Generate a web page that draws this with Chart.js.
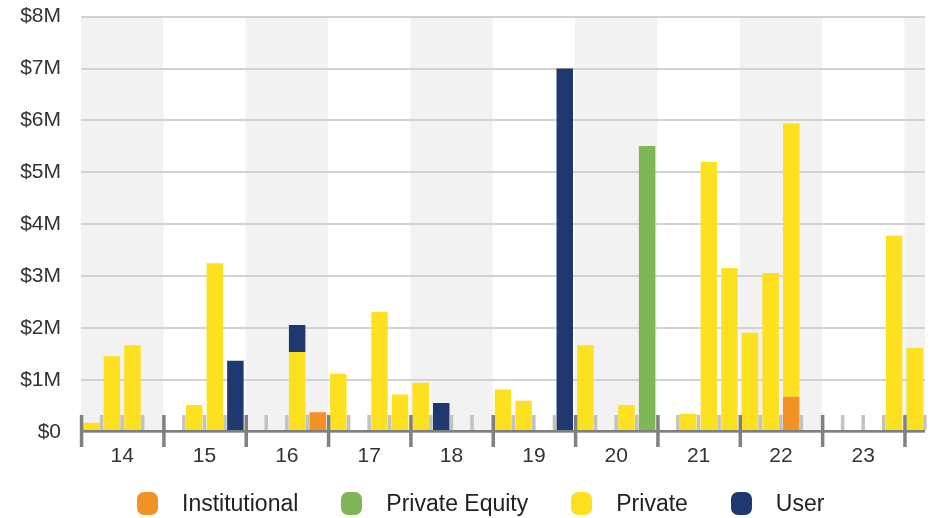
<!DOCTYPE html>
<html>
<head>
<meta charset="utf-8">
<script src="https://cdn.jsdelivr.net/npm/chart.js@4.4.1/dist/chart.umd.min.js"></script>
<style>
  html, body { margin: 0; padding: 0; background: #fff; }
  #wrap { position: relative; width: 933px; height: 518px; }
  #legend {
    position: absolute; left: 0; width: 933px; top: 491px; height: 24px;
    display: flex; justify-content: flex-start; padding-left: 137px; box-sizing: border-box;
    font-family: "Liberation Sans", Arial, sans-serif; font-size: 23px; color: #222;
  }
  .item { display: flex; align-items: center; margin-right: 43px; white-space: nowrap; }
  .box { width: 21px; height: 23px; border-radius: 7px; margin-right: 24px; flex: none; }
</style>
</head>
<body>
<div id="wrap">
  <canvas id="chart" width="933" height="518"></canvas>
  <div id="legend"></div>
</div>
<script>
// trimestre cu tranzacții (an scurt + trimestru)
const quarters = ["14 Q1", "14 Q2", "14 Q3", "15 Q2", "15 Q3", "15 Q4", "16 Q3", "16 Q4", "17 Q1", "17 Q3",
    "17 Q4", "18 Q1", "18 Q2", "19 Q1", "19 Q2", "19 Q4", "20 Q1", "20 Q3", "20 Q4", "21 Q2",
    "21 Q3", "21 Q4", "22 Q1", "22 Q2", "22 Q3", "23 Q4", "24 Q1"];

// valori în milioane $
const institutional = [null, null, null, null, null, null, null, 0.38, null, null,
    null, null, null, null, null, null, null, null, null, null,
    null, null, null, null, 0.68, null, null];
const privateEquity = [null, null, null, null, null, null, null, null, null, null,
    null, null, null, null, null, null, null, null, 5.51, null,
    null, null, null, null, null, null, null];
const privateInv = [0.18, 1.46, 1.67, 0.52, 3.25, null, 1.54, null, 1.12, 2.31,
    0.72, 0.95, null, 0.82, 0.60, null, 1.67, 0.52, null, 0.35,
    5.20, 3.16, 1.91, 3.06, 5.26, 3.78, 1.62];
const user = [null, null, null, null, null, 1.37, 0.52, null, null, null,
    null, null, 0.56, null, null, 7.00, null, null, null, null,
    null, null, null, null, null, null, null];

const yearLabels = ["14", "15", "16", "17", "18", "19", "20", "21", "22", "23"];
const yTicks = [0, 1, 2, 3, 4, 5, 6, 7, 8];

const seriesNames = ["Institutional", "Private Equity", "Private", "User"];
const seriesColors = ["#F39224", "#7FB756", "#FDE01F", "#1F386E"];

// poziția pe axă: ani de la 2014, centrul trimestrului
function qPos(q) {
    const [yy, qq] = q.split(" ");
    return (parseInt(yy) - 14) + (parseInt(qq.slice(1)) - 0.5) / 4;
}
function toPoints(values) {
    return quarters.map((q, i) => ({ x: qPos(q), y: values[i] }));
}

const xMax = 10.25;

// benzi gri alternante + marcaje pe axă
const bandsPlugin = {
    id: "bands",
    beforeDraw(chart) {
        const { ctx, chartArea } = chart;
        const x = chart.scales.x;
        ctx.save();
        ctx.fillStyle = "#F2F2F2";
        for (let y = 0; y <= 10; y += 2) {
            const a = x.getPixelForValue(y);
            const b = x.getPixelForValue(Math.min(y + 1, xMax));
            ctx.fillRect(a, chartArea.top, b - a, chartArea.bottom - chartArea.top);
        }
        ctx.restore();
    },
    afterDatasetsDraw(chart) {
        const { ctx, chartArea } = chart;
        const x = chart.scales.x;
        const base = chartArea.bottom;
        ctx.save();
        // linia axei
        ctx.fillStyle = "#7F7F7F";
        ctx.fillRect(chartArea.left, base - 2, chartArea.right - chartArea.left, 2.5);
        // marcaje trimestriale
        ctx.fillStyle = "#C2C2C2";
        for (let i = 1; i <= xMax * 4; i++) {
            if (i % 4 === 0) continue;
            const px = x.getPixelForValue(i / 4);
            ctx.fillRect(px - 1.8, base - 17, 3.5, 15);
        }
        // marcaje anuale
        ctx.fillStyle = "#808080";
        for (let y = 0; y <= 10; y++) {
            const px = x.getPixelForValue(y);
            ctx.fillRect(px - 1.2, base - 17, 3.5, 32);
        }
        ctx.restore();
    }
};

const datasets = [institutional, privateEquity, privateInv, user].map((vals, i) => ({
    label: seriesNames[i],
    data: toPoints(vals),
    backgroundColor: seriesColors[i],
    borderWidth: 0,
    barPercentage: 1,
    categoryPercentage: 0.8
}));

new Chart(document.getElementById("chart"), {
    type: "bar",
    data: { datasets },
    options: {
        responsive: false,
        animation: false,
        layout: { padding: { top: 0, right: 8, left: 0, bottom: 0 } },
        plugins: { legend: { display: false }, tooltip: { enabled: false } },
        scales: {
            x: {
                type: "linear",
                stacked: true,
                min: 0,
                max: xMax,
                offset: false,
                grid: { display: false, drawTicks: false },
                border: { display: false },
                afterBuildTicks: scale => {
                    scale.ticks = yearLabels.map((l, i) => ({ value: i + 0.5 }));
                },
                afterFit: scale => { scale.height = 86; },
                ticks: {
                    padding: 12,
                    color: "#333",
                    font: { family: "'Liberation Sans', Arial, sans-serif", size: 21 },
                    maxRotation: 0,
                    autoSkip: false,
                    callback: (v) => yearLabels[Math.round(v - 0.5)]
                }
            },
            y: {
                stacked: true,
                min: 0,
                max: 8,
                afterBuildTicks: scale => {
                    scale.ticks = yTicks.map(v => ({ value: v }));
                },
                afterFit: scale => { scale.width = 81; },
                grid: { color: "#D2D2D2", lineWidth: 2, drawTicks: true, tickLength: 16, tickColor: "rgba(0,0,0,0)" },
                border: { display: false },
                ticks: {
                    padding: 4,
                    color: "#333",
                    font: { family: "'Liberation Sans', Arial, sans-serif", size: 21 },
                    callback: v => v === 0 ? "$0" : "$" + v + "M"
                }
            }
        }
    },
    plugins: [bandsPlugin]
});

// legenda HTML
const legendEl = document.getElementById("legend");
seriesNames.forEach((name, i) => {
    const item = document.createElement("div");
    item.className = "item";
    const box = document.createElement("span");
    box.className = "box";
    box.style.background = seriesColors[i];
    const txt = document.createElement("span");
    txt.textContent = name;
    item.appendChild(box);
    item.appendChild(txt);
    legendEl.appendChild(item);
});
</script>
</body>
</html>
